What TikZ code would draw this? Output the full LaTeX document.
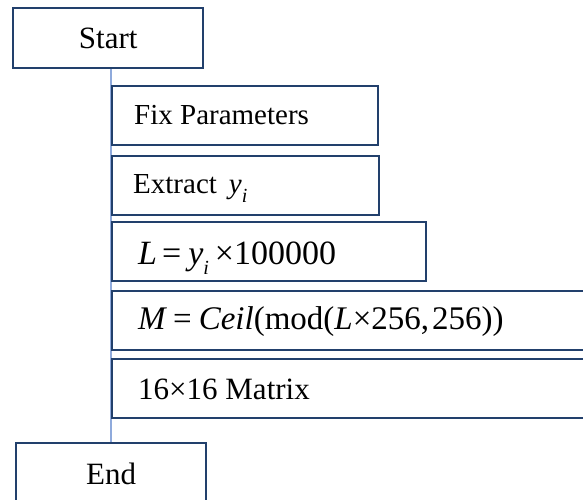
\documentclass[tikz,border=0pt]{standalone}
\usepackage{fontspec}
\setmainfont{Liberation Serif}
\usetikzlibrary{backgrounds}
\newcommand{\subi}{\raisebox{-0.3em}{\fontsize{20}{20}\selectfont\textit{i}}}
\begin{document}
\begin{tikzpicture}[x=1pt,y=-1pt,
  smalltxt/.style={font=\fontsize{29}{34}\selectfont},
  txt/.style={font=\fontsize{31}{34}\selectfont},
  mathtxt/.style={font=\fontsize{34}{38}\selectfont},
  box/.style={draw=boxblue, line width=2.4pt, rectangle, anchor=north west,
    minimum height=59pt, inner ysep=0pt, text depth=10pt},
  termbox/.style={draw=boxblue, line width=2.4pt, rectangle, anchor=north west,
    minimum height=60pt, minimum width=190pt, inner sep=0pt, text depth=10pt,
    font=\fontsize{31}{34}\selectfont},
  link/.style={draw=linkblue, line width=1.2pt}]
\definecolor{boxblue}{HTML}{22406C}
\definecolor{linkblue}{HTML}{8FAADC}
\useasboundingbox (0,0) rectangle (583,500);
\clip (0,0) rectangle (583,500);
\node[termbox, text height=30pt] (start) at (12,7) {Start};
\node[box, smalltxt, inner xsep=22pt, text height=27pt] (fix) at (111,85)
  {\makebox[222pt][l]{Fix Parameters}};
\node[box, smalltxt, inner xsep=21pt, text height=27pt] (extract) at (111,154.5)
  {\makebox[225pt][l]{Extract\hspace{12pt}\textit{y}\subi}};
\node[box, mathtxt, inner xsep=26pt, text height=35pt] (lbox) at (111,221)
  {\makebox[262pt][l]{\textit{L}\hspace{5pt}=\hspace{7pt}\textit{y}\subi\hspace{6pt}×100000}};
\node[box, mathtxt, inner xsep=26pt, text height=28pt, font=\fontsize{33}{38}\selectfont] (mbox) at (111,290)
  {\makebox[450pt][l]{\textit{M}\hspace{6pt}=\hspace{7pt}\textit{Ceil}(mod(\textit{L}×256,\hspace{3pt}256))}};
\node[box, txt, inner xsep=26pt, text height=31pt] (matrix) at (111,358)
  {\makebox[450pt][l]{16×16 Matrix}};
\node[termbox, text height=32pt] (end) at (15,442) {End};
\begin{pgfonlayer}{background}
\draw[link] (start.south -| fix.west) -- (end.north -| fix.west);
\end{pgfonlayer}
\end{tikzpicture}
\end{document}
